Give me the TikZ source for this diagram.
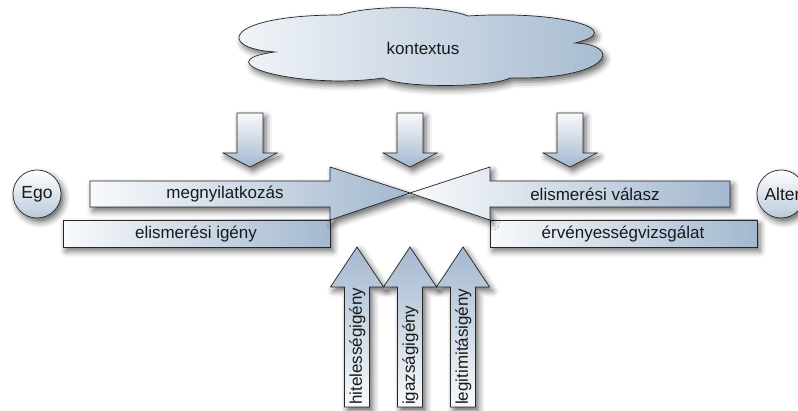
\documentclass[tikz,border=0pt]{standalone}
\usepackage{fontspec}
\setmainfont{Liberation Sans}
\usetikzlibrary{shadows.blur}
\definecolor{steel}{RGB}{163,184,207}
\definecolor{pale}{RGB}{248,250,252}
\begin{document}
\begin{tikzpicture}[x=1pt,y=-1pt,
  fig/.style={draw=black!85, line width=0.7pt, line join=miter,
    blur shadow={shadow xshift=3pt, shadow yshift=-4pt, shadow blur radius=6pt, shadow opacity=60}},
  hshade/.style={fig, left color=pale, right color=steel},
  downshade/.style={fig, top color=pale, bottom color=steel},
  upshade/.style={fig, top color=steel, bottom color=pale},
  lbl/.style={font=\fontsize{17}{20}\selectfont, text=black!90, inner sep=0pt},
  party/.style={fig, circle, minimum size=48pt, inner sep=0pt, top color=white, bottom color=steel!75, font=\fontsize{17.5}{20}\selectfont, text=black!90},
]
\useasboundingbox (0,0) rectangle (798,411);
\clip (0,0) rectangle (798,411);

% cloud
\draw[hshade] (275,52) .. controls (215,48) and (225,15) .. (340,15)
  .. controls (370,5) and (440,5) .. (468,16)
  .. controls (560,10) and (630,30) .. (575,43)
  .. controls (625,45) and (610,80) .. (510,78)
  .. controls (490,88) and (400,88) .. (383,78)
  .. controls (300,90) and (200,62) .. (275,52) -- cycle;
\node[lbl] (ctx) at (423,48) {kontextus};

% down arrows
\foreach \cx in {250,410,570}{
  \draw[downshade] ({\cx-13},113) -- ({\cx+13},113) -- ({\cx+13},153) -- ({\cx+27},153)
    -- (\cx,167) -- ({\cx-27},153) -- ({\cx-13},153) -- cycle;
}

% left side
\draw[hshade] (63,220) rectangle (330,247);
\draw[hshade] (90,181) -- (330,181) -- (330,167) -- (410,193) -- (330,220) -- (330,207) -- (90,207) -- cycle;
\node[lbl] (megny) at (225,194) {megnyilatkozás};
\node[lbl] (eligeny) at (196,234) {elismerési igény};

% right side
\draw[hshade] (490,220) rectangle (757,247);
\draw[hshade] (730,181) -- (490,181) -- (490,167) -- (410,193) -- (490,220) -- (490,207) -- (730,207) -- cycle;
\node[lbl] (valasz) at (595,194) {elismerési válasz};
\node[lbl] (ervenyes) at (623,234) {érvényességvizsgálat};

% parties
\node[party] (ego) at (37,194) {Ego};
\node[party] (alter) at (781,194) {\hspace*{3pt}Alter};

% up arrows
\foreach \cx/\txt in {357/hitelességigény,410/igazságigény,463/legitimitásigény}{
  \draw[upshade] ({\cx-12.5},407) -- ({\cx-12.5},287) -- ({\cx-26.5},287) -- (\cx,247)
    -- ({\cx+26.5},287) -- ({\cx+12.5},287) -- ({\cx+12.5},407) -- cycle;
  \node[lbl, rotate=90, anchor=west] at ({\cx+0.5},405) {\txt};
}
\end{tikzpicture}
\end{document}
